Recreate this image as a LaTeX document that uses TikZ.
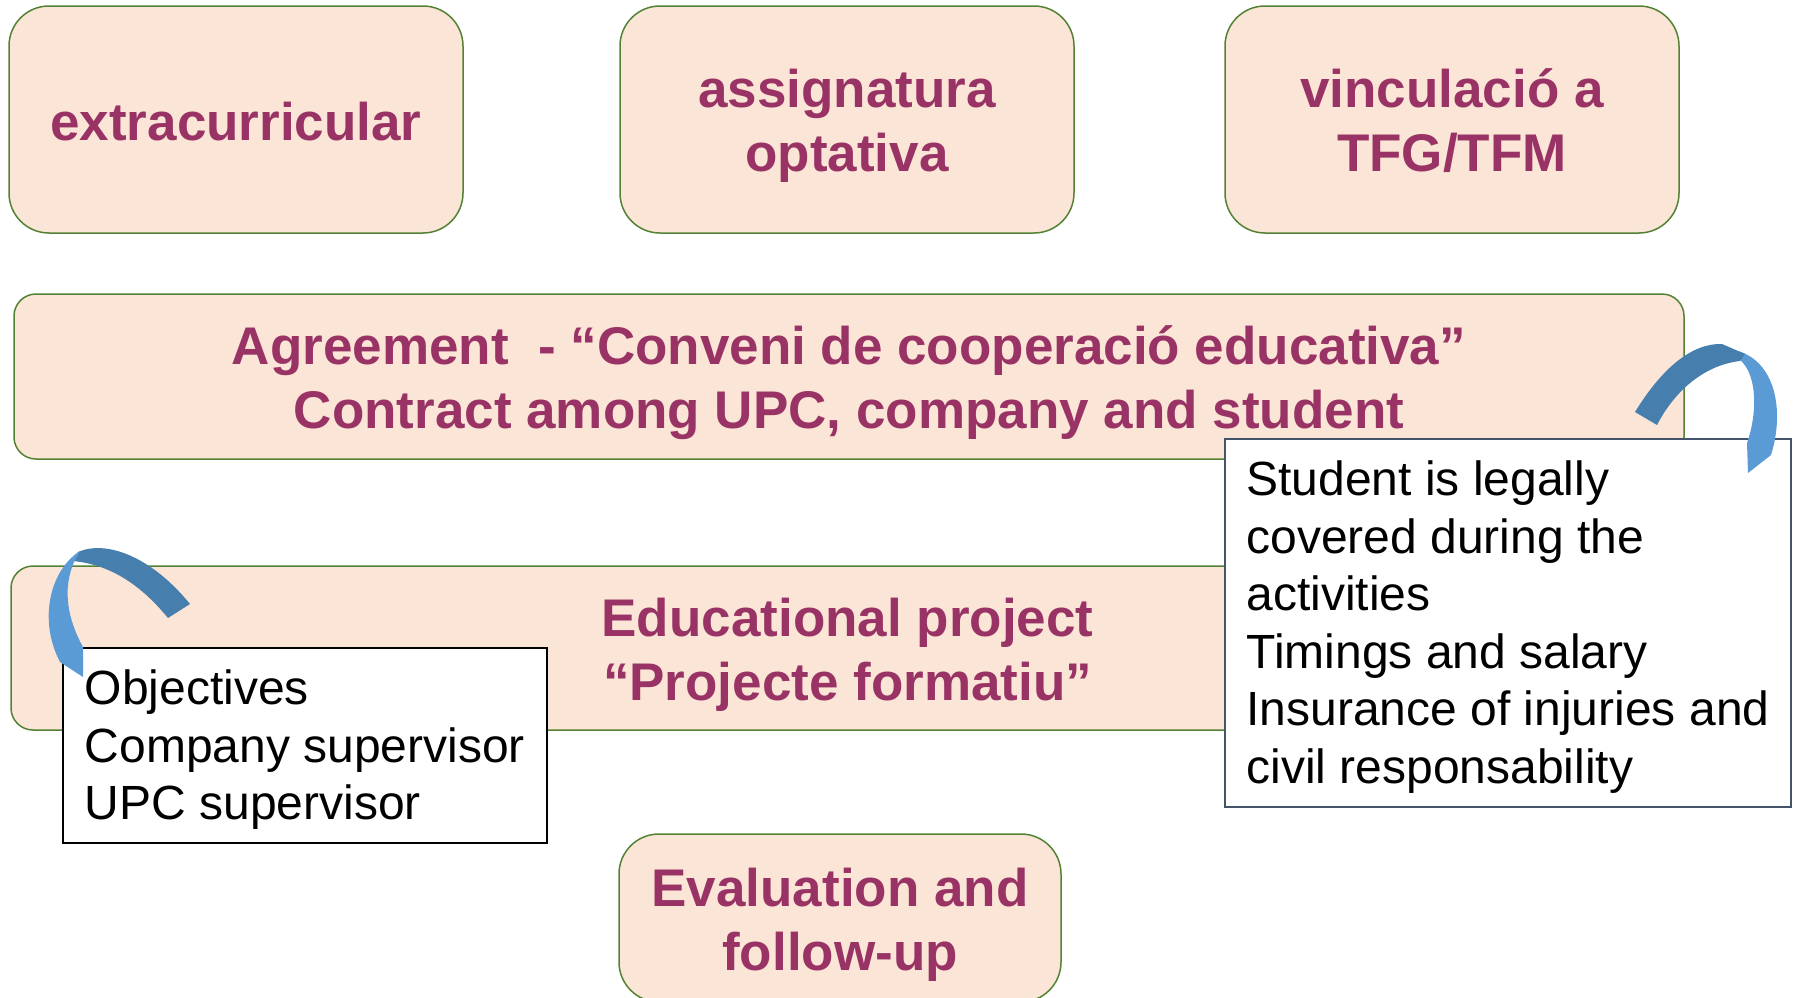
\documentclass[tikz,border=0pt]{standalone}
\usepackage{fontspec}
\setmainfont{Liberation Sans}
\definecolor{boxfill}{HTML}{FBE5D6}
\definecolor{boxline}{HTML}{548235}
\definecolor{plum}{HTML}{993366}
\definecolor{ribbondark}{HTML}{467EAD}
\definecolor{ribbonlight}{HTML}{5B9BD5}
\definecolor{slate}{HTML}{44546A}
\newcommand{\lift}[1]{\rule{0pt}{#1}}

\tikzset{
  kind/.style={draw=boxline, fill=boxfill, line width=1.5pt, rounded corners=40pt,
    text=plum, font=\bfseries\fontsize{53}{64}\selectfont, align=center, inner sep=0pt,
    minimum width=454pt, minimum height=227pt},
  band/.style={kind, rounded corners=22pt, minimum height=165pt},
  note/.style={fill=white, line width=1.5pt, font=\fontsize{48}{57.6}\selectfont,
    align=left, inner sep=0pt}
}

\begin{document}
\begin{tikzpicture}[x=1pt, y=-1pt]
\useasboundingbox (0,0) rectangle (1793,997);

% kinds of internship
\node[kind] (extra) at (236,119.5) {\lift{43pt}extracurricular};
\node[kind] (optat) at (847,119.5) {\lift{51pt}assignatura\\optativa};
\node[kind] (tfg) at (1452,119.5) {\lift{42pt}vinculació a\\TFG/TFM};

% agreement and project
\node[band, minimum width=1670pt] (agree) at (849,376.5)
  {\lift{51pt}Agreement\ \ - “Conveni de cooperació educativa”\\Contract among UPC, company and student};
\node[band, minimum width=1673pt, minimum height=164pt] (proj) at (847.5,648)
  {\lift{51pt}Educational project\\“Projecte formatiu”};
\node[kind, minimum width=442pt, minimum height=168pt] (eval) at (840,918)
  {\lift{51pt}Evaluation and\\follow-up};

% notes
\node[note, draw=black, minimum width=484pt, minimum height=195pt] (projnote) at (305,745.5)
  {\lift{43pt}Objectives\\Company supervisor\\UPC supervisor};
\node[note, draw=slate, minimum width=566pt, minimum height=368pt] (agreenote) at (1508,623)
  {\lift{43pt}Student is legally\\covered during the\\activities\\Timings and salary\\Insurance of injuries and\\civil responsability};

% ribbons
\fill[ribbonlight] (1738,351) .. controls (1775,362) and (1785,410) .. (1771,455)
  -- (1748,473) -- (1747,443) .. controls (1757,415) and (1758,375) .. (1740,360) -- cycle;
\fill[ribbondark] (1635,412) .. controls (1662,368) and (1692,343) .. (1722,344)
  -- (1745,354) -- (1740,361) .. controls (1705,365) and (1675,390) .. (1657,425) -- cycle;
\fill[ribbondark] (78,552) .. controls (105,540) and (150,555) .. (190,604)
  -- (168,618) .. controls (145,590) and (115,565) .. (73,561) -- cycle;
\fill[ribbonlight] (80,551) .. controls (50,570) and (38,620) .. (60,662)
  -- (83,677) -- (83,647) .. controls (68,620) and (62,590) .. (74,562) -- cycle;
\end{tikzpicture}
\end{document}
